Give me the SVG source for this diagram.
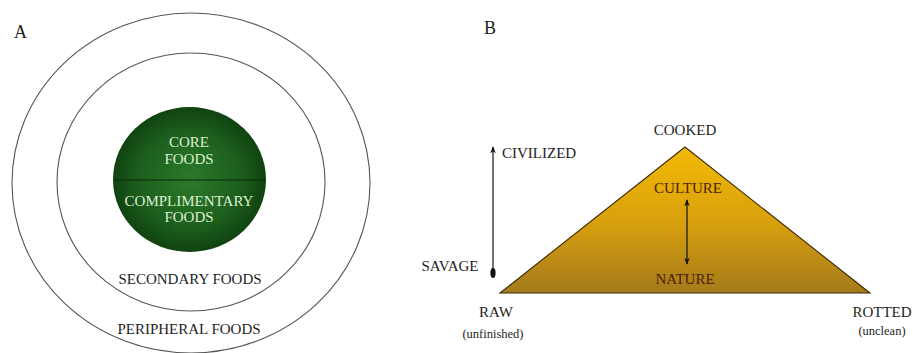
<svg xmlns="http://www.w3.org/2000/svg" width="913" height="353" viewBox="0 0 913 353">
<style>
  text { font-family: "Liberation Serif", "Times New Roman", serif; fill: #1e1e1e; }
  .ring { fill: none; stroke: #555; stroke-width: 1.1; }
  .lbl { font-size: 15px; text-anchor: middle; }
  .core { font-size: 15px; text-anchor: middle; fill: #dcefd0; }
  .sub { font-size: 12.5px; text-anchor: middle; }
  .pl { font-size: 18px; }
  .brown { fill: #4a1e0c; }
  .conn { stroke: #111; stroke-width: 1.2; fill: none; }
</style>
<defs>
  <radialGradient id="greenG" cx="50%" cy="50%" r="55%">
    <stop offset="0" stop-color="#2b7a2b"/>
    <stop offset="0.6" stop-color="#1d5f1d"/>
    <stop offset="1" stop-color="#0c3a0c"/>
  </radialGradient>
  <linearGradient id="goldG" x1="0" y1="0" x2="0" y2="1">
    <stop offset="0" stop-color="#f4ba06"/>
    <stop offset="0.5" stop-color="#d9a10c"/>
    <stop offset="1" stop-color="#a47a1c"/>
  </linearGradient>
  <marker id="ah" viewBox="0 0 10 10" refX="9" refY="5" markerWidth="7" markerHeight="7" orient="auto-start-reverse" markerUnits="userSpaceOnUse">
    <path d="M0,1 L10,5 L0,9 L3,5 z" fill="#111"/>
  </marker>
</defs>

<g id="panelA">
  <text class="pl" x="14" y="38">A</text>
  <g id="peripheral">
    <ellipse class="ring" cx="191" cy="183" rx="179" ry="170"/>
    <text class="lbl" x="189" y="334">PERIPHERAL FOODS</text>
  </g>
  <g id="secondary">
    <ellipse class="ring" cx="191" cy="182" rx="134" ry="129"/>
    <text class="lbl" x="190" y="284">SECONDARY FOODS</text>
  </g>
  <g id="core">
    <ellipse cx="189.5" cy="179.5" rx="76.5" ry="72.5" fill="url(#greenG)"/>
    <line x1="114" y1="180" x2="265" y2="180" stroke="#082808" stroke-width="1.2"/>
    <text class="core" x="189" y="147">CORE</text>
    <text class="core" x="189" y="164">FOODS</text>
  </g>
  <g id="complimentary">
    <text class="core" x="189" y="206">COMPLIMENTARY</text>
    <text class="core" x="189" y="222">FOODS</text>
  </g>
</g>

<g id="panelB">
  <text class="pl" x="484" y="34">B</text>
  <g id="triangle">
    <polygon points="500,293 685,147 870,293" fill="url(#goldG)" stroke="#3a2a05" stroke-width="1.1"/>
  </g>
  <g id="cooked"><text class="lbl" x="685" y="135">COOKED</text></g>
  <g id="culture"><text class="lbl brown" x="688" y="193">CULTURE</text></g>
  <g id="nature"><text class="lbl brown" x="685" y="284">NATURE</text></g>
  <g id="raw">
    <text class="lbl" x="496" y="317">RAW</text>
    <text class="sub" x="493" y="338">(unfinished)</text>
  </g>
  <g id="rotted">
    <text class="lbl" x="882" y="317">ROTTED</text>
    <text class="sub" x="882" y="335">(unclean)</text>
  </g>
  <g id="civilized"><text class="lbl" x="502" y="158" text-anchor="start" style="text-anchor:start">CIVILIZED</text></g>
  <g id="savage"><text class="lbl" x="450" y="271">SAVAGE</text></g>
</g>

<g id="connectors">
  <line class="conn" x1="493" y1="272" x2="493" y2="147" marker-end="url(#ah)"/>
  <ellipse cx="493" cy="273" rx="2.6" ry="5" fill="#111"/>
  <line class="conn" x1="687" y1="200" x2="687" y2="264" marker-start="url(#ah)" marker-end="url(#ah)"/>
</g>
</svg>
